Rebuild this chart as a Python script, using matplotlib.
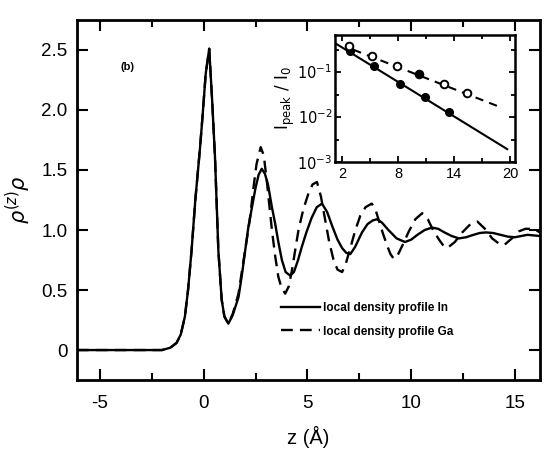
import matplotlib
matplotlib.use("Agg")
import matplotlib.pyplot as plt
from matplotlib.ticker import FixedLocator, NullFormatter

plt.rcParams['font.family'] = ['Liberation Sans', 'DejaVu Sans']
plt.rcParams['axes.unicode_minus'] = False

# ---- main panel data: local density profiles ----
z_in = [-6.1, -4.0, -2.5, -2.0, -1.8, -1.6, -1.3, -1.1, -0.9, -0.75, -0.58, -0.4, -0.18, -0.05,
        0.1, 0.27, 0.42, 0.55, 0.71, 0.87, 1.0, 1.19, 1.4, 1.68, 1.84, 2.16, 2.5, 2.65, 2.8,
        2.95, 3.1, 3.29, 3.45, 3.6, 3.77, 3.95, 4.17, 4.35, 4.55, 4.73, 4.95, 5.2, 5.45, 5.7,
        5.95, 6.2, 6.45, 6.67, 6.87, 7.07, 7.3, 7.63, 7.9, 8.15, 8.36, 8.6, 8.9, 9.3, 9.7,
        10.0, 10.3, 10.65, 11.0, 11.3, 11.6, 11.95, 12.3, 12.65, 13.0, 13.3, 13.6, 13.95,
        14.3, 14.65, 15.0, 15.3, 15.6, 15.9, 16.2]
rho_in = [0.0, 0.0, 0.0, 0.0, 0.01, 0.02, 0.06, 0.13, 0.28, 0.5, 0.83, 1.25, 1.67, 1.95,
          2.3, 2.51, 2.05, 1.6, 0.83, 0.42, 0.28, 0.22, 0.29, 0.44, 0.62, 1.03, 1.35, 1.46, 1.51,
          1.47, 1.38, 1.19, 1.05, 0.9, 0.75, 0.65, 0.62, 0.65, 0.75, 0.86, 0.98, 1.1, 1.19, 1.22,
          1.15, 1.03, 0.92, 0.85, 0.81, 0.8, 0.86, 0.98, 1.05, 1.08, 1.09, 1.06, 1.0, 0.93, 0.9,
          0.92, 0.96, 1.0, 1.02, 1.01, 0.98, 0.95, 0.93, 0.94, 0.96, 0.975, 0.98, 0.975,
          0.96, 0.945, 0.94, 0.95, 0.96, 0.955, 0.95]

z_ga = [-6.1, -4.0, -2.5, -2.0, -1.8, -1.6, -1.3, -1.1, -0.9, -0.75, -0.58, -0.4, -0.18, -0.05,
        0.1, 0.27, 0.42, 0.55, 0.71, 0.87, 1.0, 1.19, 1.4, 1.68, 1.9, 2.22, 2.4, 2.55, 2.75,
        2.9, 3.05, 3.29, 3.45, 3.6, 3.75, 3.93, 4.1, 4.25, 4.4, 4.57, 4.8, 5.06, 5.25, 5.46,
        5.65, 5.86, 6.05, 6.26, 6.45, 6.67, 6.85, 7.05, 7.31, 7.55, 7.8, 8.1, 8.28, 8.44,
        8.64, 8.84, 9.0, 9.16, 9.35, 9.6, 9.89, 10.2, 10.53, 10.8, 11.05, 11.34, 11.55,
        11.74, 12.1, 12.46, 12.8, 13.19, 13.55, 13.9, 14.2, 14.48, 14.85, 15.2, 15.5,
        15.85, 16.1, 16.3]
rho_ga = [0.0, 0.0, 0.0, 0.0, 0.01, 0.02, 0.06, 0.13, 0.28, 0.5, 0.83, 1.25, 1.67, 1.95,
          2.3, 2.51, 2.05, 1.6, 0.83, 0.42, 0.28, 0.22, 0.3, 0.47, 0.72, 1.08, 1.35, 1.55, 1.69,
          1.62, 1.4, 1.0, 0.78, 0.61, 0.52, 0.47, 0.53, 0.66, 0.82, 1.0, 1.17, 1.31, 1.38, 1.40,
          1.28, 1.08, 0.9, 0.75, 0.67, 0.65, 0.72, 0.84, 1.0, 1.12, 1.19, 1.22, 1.17, 1.08,
          0.97, 0.87, 0.8, 0.76, 0.79, 0.88, 0.99, 1.09, 1.14, 1.09, 1.0, 0.92, 0.87,
          0.85, 0.9, 0.98, 1.04, 1.07, 1.01, 0.93, 0.89, 0.875, 0.93, 0.99, 1.01,
          1.01, 0.99, 0.97]

# ---- inset data: peak intensity decay ----
peak_z_in = [2.8, 5.4, 8.2, 10.9, 13.5]
peak_I_in = [0.279, 0.131, 0.0537, 0.0272, 0.0124]
peak_z_ga = [2.7, 5.2, 7.9, 10.2, 12.9, 15.4]
peak_I_ga = [0.36, 0.217, 0.131, 0.086, 0.0518, 0.034]
peak_ga_filled = [False, False, False, True, False, False]
fit_z_in = [1.3, 19.7]
fit_I_in = [0.42, 0.0019]
fit_z_ga = [3.2, 19.1]
fit_I_ga = [0.305, 0.0158]

fig = plt.figure(figsize=(5.44, 4.53), dpi=100)
ax = fig.add_axes([0.1415, 0.161, 0.851, 0.795])

ax.plot(z_in, rho_in, color='black', lw=1.7, label='local density profile In')
ax.plot(z_ga, rho_ga, color='black', lw=1.7, dashes=(5, 3), label='local density profile Ga')

ax.set_xlim(-6.1, 16.2)
ax.set_ylim(-0.25, 2.75)
ax.xaxis.set_major_locator(FixedLocator([-5, 0, 5, 10, 15]))
ax.xaxis.set_minor_locator(FixedLocator([-2.5, 2.5, 7.5, 12.5]))
ax.yaxis.set_major_locator(FixedLocator([0, 0.5, 1.0, 1.5, 2.0, 2.5]))
ax.set_yticklabels(['0', '0.5', '1.0', '1.5', '2.0', '2.5'])
ax.tick_params(which='both', direction='in', top=True, right=True, width=1.5, labelsize=13.5)
ax.tick_params(which='major', length=8)
ax.tick_params(which='minor', length=5)
ax.tick_params(axis='x', pad=11)
ax.tick_params(axis='y', pad=7)
for s in ax.spines.values():
    s.set_linewidth(2)

ax.set_xlabel('z (Å)', fontsize=14.5, labelpad=10)
ax.set_ylabel(r'$\rho^{(z)}\rho$', fontsize=15, labelpad=6)
ax.text(0.11, 0.87, '(b)', transform=ax.transAxes, fontsize=8, fontweight='bold',
        ha='center', va='center')

leg = ax.legend(loc='lower left', bbox_to_anchor=(0.43, 0.105), frameon=False,
                fontsize=8.5, handlelength=3.3, handletextpad=0.3, labelspacing=1.0,
                borderaxespad=0)
for t in leg.get_texts():
    t.set_fontweight('bold')

# ---- inset ----
ins = fig.add_axes([0.616, 0.643, 0.331, 0.280])
ins.plot(fit_z_in, fit_I_in, color='black', lw=1.5)
ins.plot(fit_z_ga, fit_I_ga, color='black', lw=1.5, dashes=(4, 3))
ins.plot(peak_z_in, peak_I_in, 'o', color='black', ms=5.5)
for zz, ii, f in zip(peak_z_ga, peak_I_ga, peak_ga_filled):
    ins.plot([zz], [ii], 'o', ms=5.5, mec='black', mew=1.4,
             mfc='black' if f else 'white')
ins.set_yscale('log')
ins.set_xlim(1.25, 20.55)
ins.set_ylim(1e-3, 0.65)
ins.xaxis.set_major_locator(FixedLocator([2, 8, 14, 20]))
ins.xaxis.set_minor_locator(FixedLocator([5, 11, 17]))
ins.yaxis.set_major_locator(FixedLocator([1e-3, 1e-2, 1e-1]))
ins.yaxis.set_minor_locator(FixedLocator([3e-3, 3e-2, 3e-1]))
ins.yaxis.set_minor_formatter(NullFormatter())
ins.set_yticklabels([r'$10^{-3}$', r'$10^{-2}$', r'$10^{-1}$'])
ins.tick_params(which='both', direction='in', top=True, right=True, width=1.3, labelsize=10.5)
ins.tick_params(which='major', length=4)
ins.tick_params(which='minor', length=3)
ins.tick_params(axis='y', pad=2)
for s in ins.spines.values():
    s.set_linewidth(1.8)
ins.set_ylabel(r'$\mathrm{I_{peak}}\ /\ \mathrm{I_0}$', fontsize=12, labelpad=0)

fig.savefig('out.png', dpi=100)
